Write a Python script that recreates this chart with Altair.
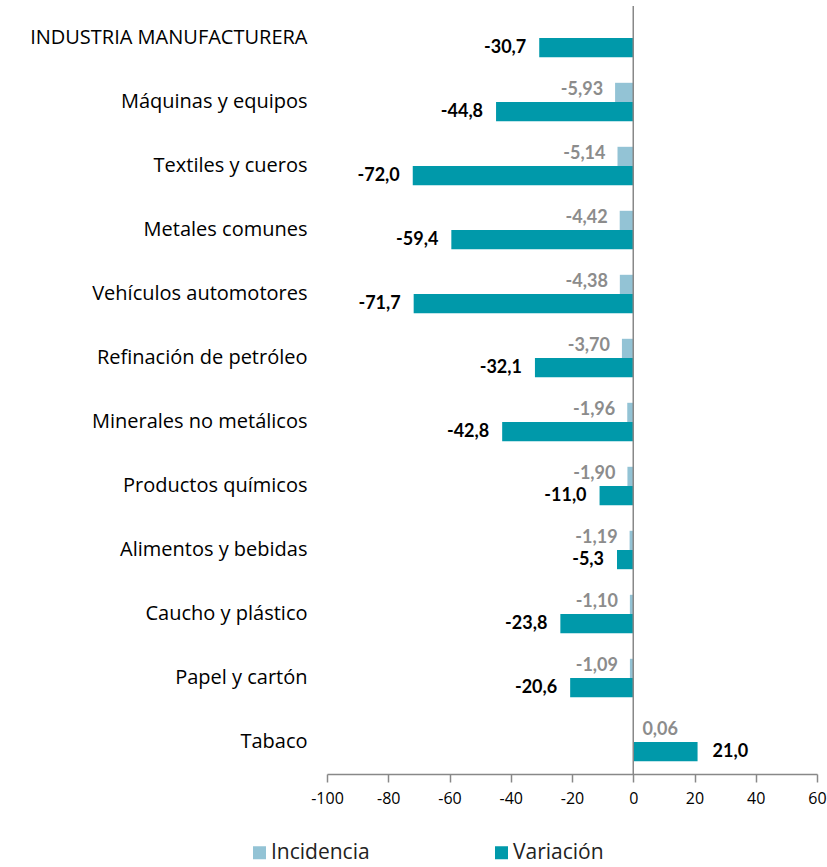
import altair as alt
import pandas as pd

categorias = [
    "INDUSTRIA MANUFACTURERA", "Máquinas y equipos", "Textiles y cueros",
    "Metales comunes", "Vehículos automotores", "Refinación de petróleo",
    "Minerales no metálicos", "Productos químicos", "Alimentos y bebidas",
    "Caucho y plástico", "Papel y cartón", "Tabaco",
]
incidencia = [None, -5.93, -5.14, -4.42, -4.38, -3.70, -1.96, -1.90, -1.19, -1.10, -1.09, 0.06]
variacion = [-30.7, -44.8, -72.0, -59.4, -71.7, -32.1, -42.8, -11.0, -5.3, -23.8, -20.6, 21.0]
series = ["Incidencia", "Variación"]
colores = ["#93C3D5", "#0099AA"]
x_ticks = [-100, -80, -60, -40, -20, 0, 20, 40, 60]

rows = []
for c, i, v in zip(categorias, incidencia, variacion):
    if i is not None:
        rows.append({"cat": c, "serie": "Incidencia", "valor": i,
                     "label": f"{i:.2f}".replace(".", ",")})
    rows.append({"cat": c, "serie": "Variación", "valor": v,
                 "label": f"{v:.1f}".replace(".", ",")})
df = pd.DataFrame(rows)

FONT = "Lato"
CAT_FONT = "Open Sans"

y_enc = alt.Y("cat:N", sort=categorias,
              scale=alt.Scale(paddingInner=0.4, paddingOuter=0.2),
              axis=alt.Axis(title=None, domain=False, ticks=False, labelPadding=20,
                            labelFontSize=20, labelFont=CAT_FONT, labelColor="#000000",
                            labelLimit=400))
yoff = alt.YOffset("serie:N", sort=series, scale=alt.Scale(domain=series))
x_enc = alt.X("valor:Q", scale=alt.Scale(domain=[-100, 60], nice=False),
              axis=alt.Axis(title=None, values=x_ticks, grid=False, domainColor="#888888",
                            tickColor="#888888", tickSize=8, labelFontSize=16,
                            labelFont=CAT_FONT, labelColor="#000000", labelPadding=8,
                            domainWidth=1.5, tickWidth=1.5, labelFlush=False,
                            labelOverlap=False,
                            labelExpr="'' + datum.value"))

base = alt.Chart(df)

bars = base.mark_bar().encode(
    x=x_enc, y=y_enc, yOffset=yoff,
    color=alt.Color("serie:N", scale=alt.Scale(domain=series, range=colores),
                    legend=alt.Legend(title=None, orient="none", direction="horizontal",
                                      legendX=-78, legendY=836, symbolType="square",
                                      symbolSize=169, symbolStrokeWidth=0,
                                      labelFontSize=21, labelFont=CAT_FONT, labelColor="#222222",
                                      columnPadding=121, labelOffset=1)),
)

def labels(serie, neg, color, dx, dy):
    cond = f"datum.serie == '{serie}' && datum.valor {'<' if neg else '>='} 0"
    return base.transform_filter(cond).mark_text(
        align="right" if neg else "left", dx=-dx if neg else dx, dy=dy,
        fontSize=18, fontWeight="bold", font=FONT, color=color, baseline="middle",
    ).encode(x="valor:Q", y=alt.Y("cat:N", sort=categorias), yOffset=yoff, text="label:N")

zero = alt.Chart(pd.DataFrame({"x": [0]})).mark_rule(color="#888888", strokeWidth=1.5).encode(x="x:Q")

chart = alt.layer(
    bars, zero,
    labels("Incidencia", True, "#8C8C8C", 12, -2),
    labels("Incidencia", False, "#8C8C8C", 9, -2),
    labels("Variación", True, "#000000", 13, 0),
    labels("Variación", False, "#000000", 15, 0),
).properties(
    width=490, height=768,
    padding={"left": 327, "top": 6, "right": 10, "bottom": 93},
    autosize=alt.AutoSizeParams(type="none"),
).configure_view(stroke=None)

chart.save("out.html", embed_options={"renderer": "svg", "actions": False})
